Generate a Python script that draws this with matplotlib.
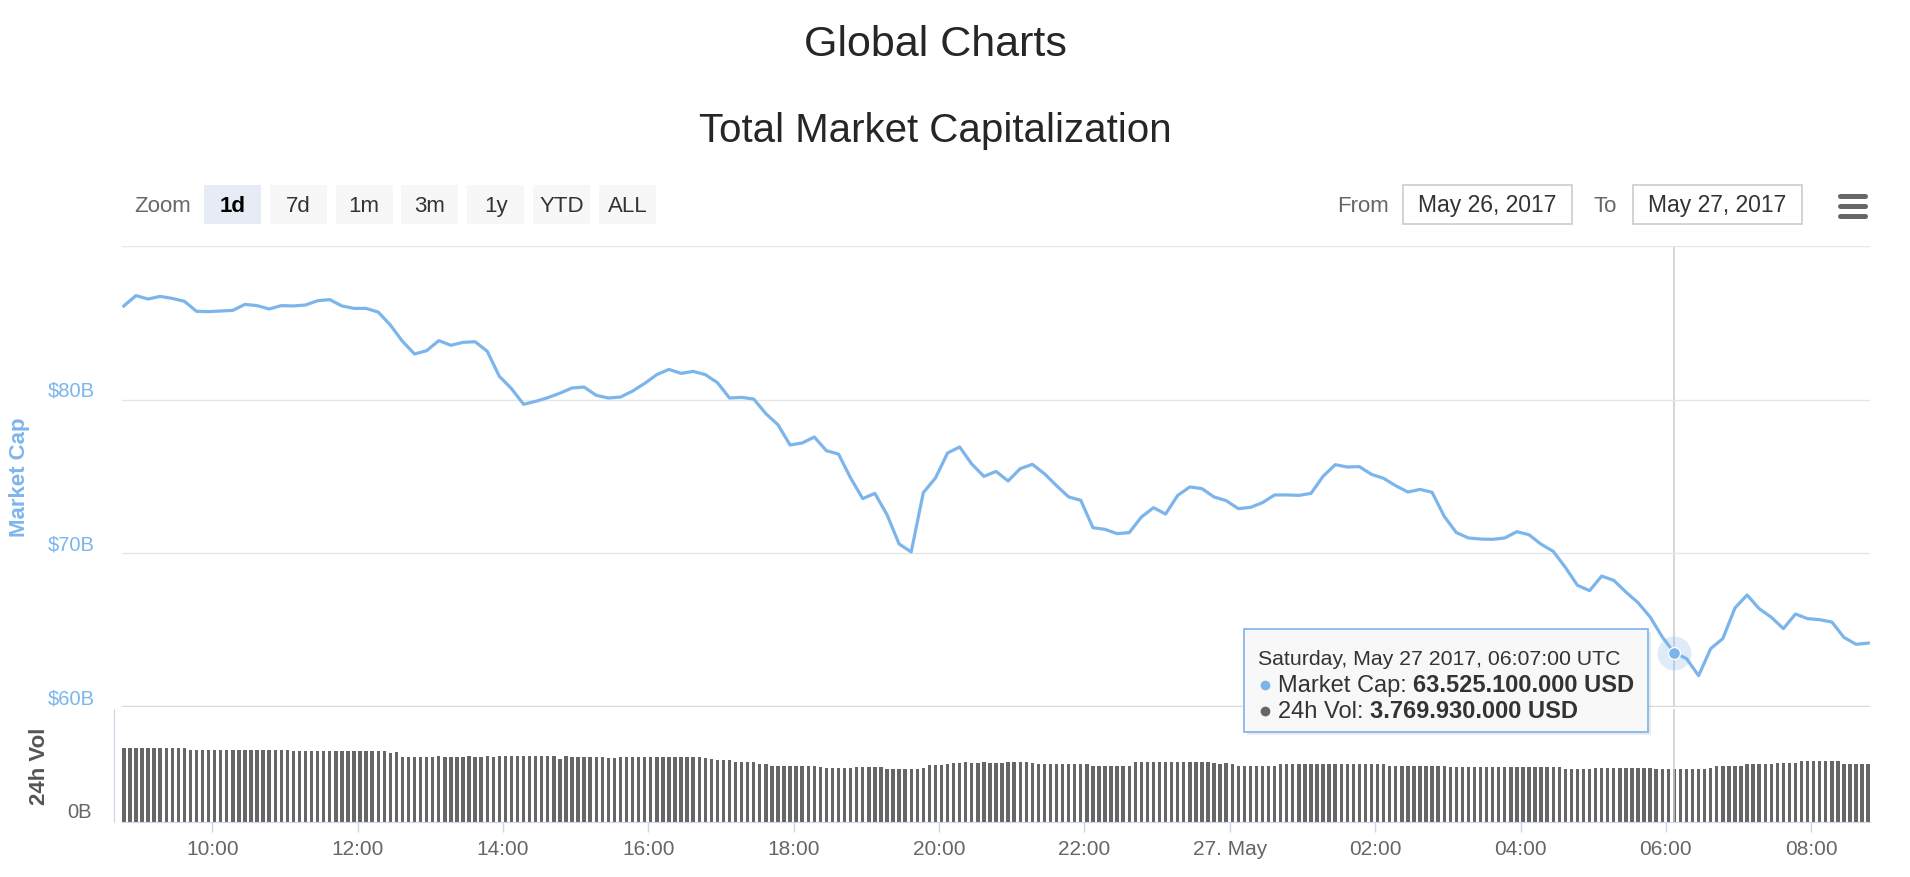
import matplotlib
matplotlib.use("Agg")
import matplotlib.pyplot as plt
import matplotlib.dates as mdates
import pandas as pd
from matplotlib.patches import Rectangle, FancyBboxPatch
from matplotlib.lines import Line2D

plt.rcParams["font.family"] = ["Liberation Sans", "DejaVu Sans"]

# market cap in $B, one reading every 10 minutes from 08:47 UTC, May 26
start = "2017-05-26 08:47"
market_cap = [
    86.10, 86.77, 86.55, 86.72, 86.59, 86.40, 85.75, 85.73, 85.77, 85.81, 86.20, 86.12,
    85.90, 86.12, 86.10, 86.16, 86.44, 86.51, 86.10, 85.94, 85.94, 85.70, 84.86, 83.80,
    82.97, 83.19, 83.84, 83.54, 83.73, 83.77, 83.15, 81.52, 80.72, 79.70, 79.89, 80.13,
    80.42, 80.76, 80.82, 80.28, 80.11, 80.17, 80.56, 81.06, 81.63, 81.97, 81.71, 81.84,
    81.63, 81.11, 80.11, 80.15, 80.04, 79.09, 78.37, 77.05, 77.18, 77.57, 76.68, 76.46,
    74.90, 73.56, 73.90, 72.52, 70.61, 70.09, 73.95, 74.90, 76.53, 76.92, 75.81, 75.01,
    75.33, 74.71, 75.51, 75.79, 75.18, 74.40, 73.67, 73.45, 71.67, 71.56, 71.28, 71.35,
    72.36, 72.97, 72.56, 73.77, 74.32, 74.21, 73.67, 73.43, 72.91, 72.99, 73.30, 73.80,
    73.80, 73.77, 73.90, 75.01, 75.77, 75.62, 75.64, 75.14, 74.88, 74.40, 73.99, 74.16,
    73.97, 72.41, 71.35, 71.00, 70.93, 70.91, 71.00, 71.41, 71.21, 70.59, 70.13, 69.09,
    67.92, 67.57, 68.52, 68.24, 67.48, 66.79, 65.86, 64.56, 63.525, 63.15, 62.04, 63.80,
    64.45, 66.44, 67.29, 66.40, 65.84, 65.10, 66.05, 65.75, 65.68, 65.53, 64.53, 64.08,
    64.16,
]
# 24h volume in $B, one bar every 5 minutes, same start
volume = [
    5.24, 5.24, 5.24, 5.24, 5.24, 5.24, 5.24, 5.24, 5.24, 5.24, 5.24, 5.12,
    5.12, 5.12, 5.12, 5.12, 5.12, 5.12, 5.12, 5.12, 5.12, 5.12, 5.12, 5.12,
    5.12, 5.12, 5.12, 5.12, 5.00, 5.00, 5.00, 5.00, 5.00, 5.00, 5.00, 5.00,
    5.00, 5.00, 5.00, 5.00, 5.00, 5.00, 5.00, 5.00, 4.85, 4.95, 4.60, 4.60,
    4.60, 4.60, 4.60, 4.60, 4.64, 4.62, 4.62, 4.60, 4.60, 4.64, 4.60, 4.62,
    4.64, 4.62, 4.68, 4.66, 4.66, 4.64, 4.66, 4.68, 4.68, 4.68, 4.68, 4.68,
    4.47, 4.66, 4.62, 4.62, 4.58, 4.62, 4.60, 4.62, 4.56, 4.54, 4.62, 4.62,
    4.58, 4.62, 4.62, 4.62, 4.62, 4.62, 4.62, 4.62, 4.62, 4.62, 4.62, 4.62,
    4.50, 4.48, 4.42, 4.40, 4.40, 4.26, 4.25, 4.25, 4.25, 4.12, 4.10, 3.95,
    3.95, 3.95, 3.95, 3.95, 3.95, 3.95, 3.95, 3.88, 3.84, 3.84, 3.84, 3.84,
    3.84, 3.86, 3.86, 3.86, 3.86, 3.86, 3.72, 3.72, 3.72, 3.72, 3.72, 3.72,
    3.80, 4.05, 4.05, 4.05, 4.08, 4.20, 4.20, 4.22, 4.20, 4.20, 4.22, 4.20,
    4.20, 4.20, 4.22, 4.22, 4.28, 4.22, 4.15, 4.10, 4.10, 4.10, 4.10, 4.10,
    4.10, 4.10, 4.10, 4.10, 4.00, 4.00, 4.00, 4.00, 4.00, 4.00, 4.00, 4.22,
    4.25, 4.28, 4.25, 4.25, 4.28, 4.25, 4.25, 4.25, 4.22, 4.22, 4.25, 4.22,
    4.15, 4.12, 4.15, 4.12, 4.00, 4.00, 4.00, 4.00, 4.00, 4.00, 4.00, 4.10,
    4.10, 4.10, 4.12, 4.10, 4.10, 4.12, 4.10, 4.10, 4.12, 4.10, 4.10, 4.10,
    4.10, 4.10, 4.10, 4.10, 4.10, 4.00, 4.00, 4.00, 4.00, 4.00, 4.00, 4.00,
    4.00, 4.00, 4.00, 3.89, 3.89, 3.89, 3.89, 3.89, 3.89, 3.89, 3.89, 3.89,
    3.89, 3.89, 3.89, 3.89, 3.89, 3.89, 3.89, 3.89, 3.89, 3.89, 3.77, 3.77,
    3.77, 3.77, 3.77, 3.85, 3.85, 3.85, 3.85, 3.85, 3.85, 3.85, 3.85, 3.85,
    3.85, 3.77, 3.77, 3.77, 3.77, 3.77, 3.72, 3.77, 3.72, 3.77, 3.80, 3.98,
    3.98, 3.98, 3.98, 3.98, 4.10, 4.10, 4.10, 4.10, 4.10, 4.20, 4.20, 4.20,
    4.20, 4.30, 4.30, 4.30, 4.30, 4.30, 4.30, 4.30, 4.13, 4.13, 4.13, 4.13,
    4.13,
]
tick_times = pd.date_range("2017-05-26 10:00", periods=12, freq="2h")
tick_labels = ["10:00", "12:00", "14:00", "16:00", "18:00", "20:00",
               "22:00", "27. May", "02:00", "04:00", "06:00", "08:00"]
cap_ticks = [60, 70, 80, 90]
cap_labels = ["$60B", "$70B", "$80B", ""]
zoom_buttons = ["1d", "7d", "1m", "3m", "1y", "YTD", "ALL"]
date_from = "May 26, 2017"
date_to = "May 27, 2017"
hover_time = pd.Timestamp("2017-05-27 06:07")
hover_header = "Saturday, May 27 2017, 06:07:00 UTC"
hover_cap = "63.525.100.000 USD"
hover_vol = "3.769.930.000 USD"

BLUE = "#7cb5ec"
AXIS = "#ccd6eb"
W, H = 1910, 878


def fx(px):  # pixel column -> figure fraction
    return px / W


def fy(px):  # pixel row (from top) -> figure fraction
    return 1 - px / H


cap_times = pd.date_range(start, periods=len(market_cap), freq="10min")
cap_x = mdates.date2num(cap_times.to_pydatetime())
vol_x = mdates.date2num(pd.date_range(start, periods=len(volume), freq="5min").to_pydatetime())
hover_x = mdates.date2num(hover_time.to_pydatetime())
hover_val = market_cap[cap_times.get_loc(hover_time)]
x_lo = mdates.date2num(pd.Timestamp("2017-05-26 08:45:30").to_pydatetime())
x_hi = mdates.date2num(pd.Timestamp("2017-05-27 08:48:30").to_pydatetime())

fig = plt.figure(figsize=(W / 100, H / 100), dpi=100)

# titles
fig.text(fx(935), fy(56), "Global Charts", ha="center", va="baseline", fontsize=31, color="#262626")
fig.text(fx(935), fy(142), "Total Market Capitalization", ha="center", va="baseline", fontsize=29, color="#262626")

# range selector
fig.text(fx(163), fy(212), "Zoom", ha="center", va="baseline", fontsize=16, color="#666666")
for i, lbl in enumerate(zoom_buttons):
    x0 = 204 + i * 65.8
    sel = i == 0
    fig.add_artist(Rectangle((fx(x0), fy(225)), 57 / W, 39 / H, transform=fig.transFigure,
                             facecolor="#e6ebf5" if sel else "#f7f7f7", edgecolor="none"))
    fig.text(fx(x0 + 28.5), fy(212), lbl, ha="center", va="baseline", fontsize=16,
             color="#000000" if sel else "#333333", fontweight="bold" if sel else "normal")
fig.text(fx(1363), fy(212), "From", ha="center", va="baseline", fontsize=16, color="#666666")
fig.text(fx(1605), fy(212), "To", ha="center", va="baseline", fontsize=16, color="#666666")
for x0, txt in [(1403, date_from), (1633, date_to)]:
    fig.add_artist(Rectangle((fx(x0), fy(225)), 169 / W, 39 / H, transform=fig.transFigure,
                             facecolor="white", edgecolor="#cccccc", lw=1.2))
    fig.text(fx(x0 + 84.5), fy(212), txt, ha="center", va="baseline", fontsize=16.5, color="#333333")
for yy in [197, 207, 217]:  # export menu icon
    fig.add_artist(Line2D([fx(1840), fx(1865)], [fy(yy), fy(yy)], transform=fig.transFigure,
                          color="#666666", lw=3.6, solid_capstyle="round"))

# market cap pane
ax = fig.add_axes([fx(122), fy(708), fx(1870) - fx(122), fy(247) - fy(708)])
ax.plot(cap_x, market_cap, color=BLUE, lw=2.3, solid_joinstyle="round", zorder=3)
ax.set_xlim(x_lo, x_hi)
ax.set_ylim(60, 90)
ax.set_yticks(cap_ticks)
ax.grid(axis="y", color="#e6e6e6", lw=1)
ax.axhline(60, color="#d9d9d9", lw=2.4, zorder=2)
ax.tick_params(left=False, labelleft=False, bottom=False, labelbottom=False)
for s in ax.spines.values():
    s.set_visible(False)
for v, lbl in zip(cap_ticks, cap_labels):
    ax.annotate(lbl, xy=(0, v), xycoords=("axes fraction", "data"), xytext=(-27, 4),
                textcoords="offset pixels", ha="right", va="baseline", fontsize=14.5, color=BLUE)
fig.text(fx(20), fy(477), "Market Cap", rotation=90, ha="center", va="center",
         fontsize=16, fontweight="bold", color=BLUE)

# crosshair and hovered point
ax.axvline(hover_x, color="#cccccc", lw=1.1, zorder=1)
ax.scatter([hover_x], [hover_val], s=600, color=BLUE, alpha=0.25, lw=0, zorder=4)
ax.scatter([hover_x], [hover_val], s=75, color=BLUE, edgecolor="white", lw=1, zorder=5)

# volume pane
axv = fig.add_axes([fx(122), fy(823), fx(1870) - fx(122), fy(710) - fy(823)])
axv.bar(vol_x, volume, width=2.8 / 1440, color="#666666", lw=0)
axv.axvline(hover_x, color="#cccccc", lw=1.1, zorder=3)
axv.set_xlim(x_lo, x_hi)
axv.set_ylim(0, 8)
axv.set_xticks(mdates.date2num(tick_times.to_pydatetime()))
axv.set_xticklabels(tick_labels)
axv.tick_params(axis="x", length=7.2, width=1, color=AXIS, labelsize=15, labelcolor="#666666", pad=5)
axv.tick_params(axis="y", left=False, labelleft=False)
for side in ["top", "right"]:
    axv.spines[side].set_visible(False)
axv.spines["left"].set_position(("outward", 6))
axv.spines["left"].set_color(AXIS)
axv.spines["bottom"].set_color(AXIS)
axv.annotate("0B", xy=(0, 0), xycoords=("axes fraction", "data"), xytext=(-30, 5),
             textcoords="offset pixels", ha="right", va="baseline", fontsize=14.5, color="#666666")
fig.text(fx(39), fy(766), "24h Vol", rotation=90, ha="center", va="center",
         fontsize=16, fontweight="bold", color="#555555")

# tooltip
fig.add_artist(FancyBboxPatch((fx(1247), fy(736)), 404 / W, 103 / H, transform=fig.transFigure,
                              boxstyle="square,pad=0", facecolor="#000000", alpha=0.08, edgecolor="none"))
fig.add_artist(FancyBboxPatch((fx(1244), fy(733)), 404 / W, 103 / H, transform=fig.transFigure,
                              boxstyle="square,pad=0", facecolor="#f9f9f9", alpha=0.95,
                              edgecolor=BLUE, lw=1.3))
fig.text(fx(1258), fy(665), hover_header, ha="left", va="baseline", fontsize=15.3, color="#333333")
renderer = fig.canvas.get_renderer()
for yy, dot, name, val in [(692, BLUE, "Market Cap:", hover_cap), (718, "#666666", "24h Vol:", hover_vol)]:
    fig.add_artist(Line2D([fx(1265)], [fy(yy - 6)], transform=fig.transFigure, marker="o",
                          markersize=6, color=dot, lw=0))
    t = fig.text(fx(1278), fy(yy), name, ha="left", va="baseline", fontsize=17, color="#333333")
    x1 = t.get_window_extent(renderer).x1
    fig.text(fx(x1 + 6), fy(yy), val, ha="left", va="baseline", fontsize=17,
             fontweight="bold", color="#333333")

fig.savefig("out.png", dpi=100, facecolor="white")
